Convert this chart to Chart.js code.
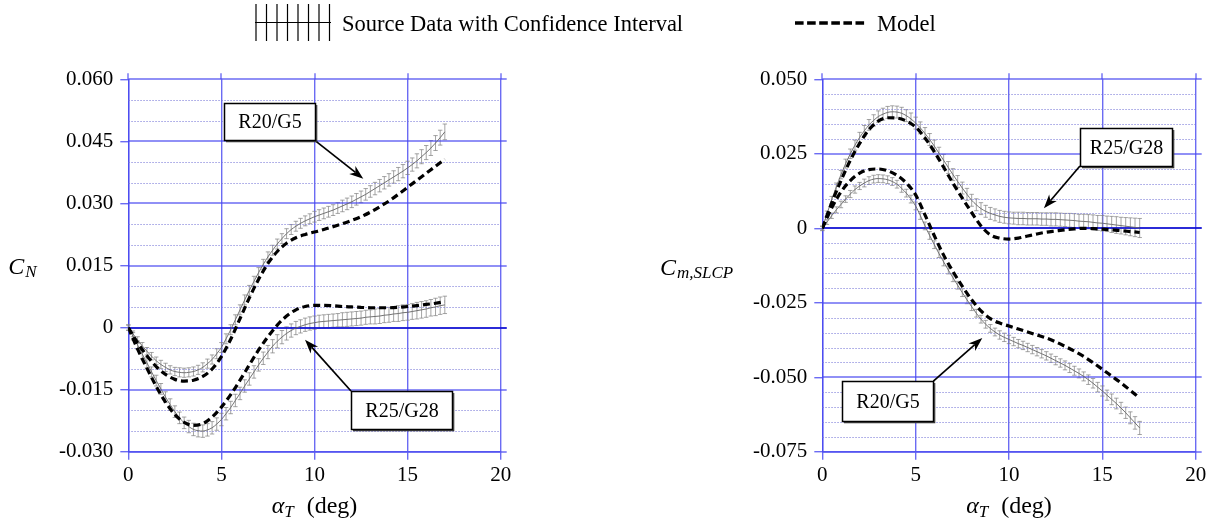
<!DOCTYPE html>
<html>
<head>
<meta charset="utf-8">
<script src="https://cdn.jsdelivr.net/npm/chart.js@4.4.1/dist/chart.umd.min.js"></script>
<style>
  body { margin: 0; background: #fff; }
  #page { position: relative; width: 1217px; height: 527px; overflow: hidden; font-family: 'Liberation Serif', 'Times New Roman', serif; }
  canvas { position: absolute; top: 0; }
  #cnChart { left: 0; }
  #cmChart { left: 608px; }
  .key { position: absolute; }
  .key-text { position: absolute; font-size: 22.5px; line-height: 26px; color: #000; white-space: nowrap; }
</style>
</head>
<body>
<div id="page">
  <canvas id="cnChart" width="608" height="527"></canvas>
  <canvas id="cmChart" width="609" height="527"></canvas>

  <svg class="key" style="left:255px;top:4px" width="76" height="37">
    <g stroke="#000" stroke-width="1.2">
      <line x1="0" y1="18.5" x2="76" y2="18.5"/>
      <line x1="1" y1="0" x2="1" y2="37"/>
      <line x1="11.5" y1="0" x2="11.5" y2="37"/>
      <line x1="22" y1="0" x2="22" y2="37"/>
      <line x1="32.5" y1="0" x2="32.5" y2="37"/>
      <line x1="43" y1="0" x2="43" y2="37"/>
      <line x1="53.5" y1="0" x2="53.5" y2="37"/>
      <line x1="64" y1="0" x2="64" y2="37"/>
      <line x1="74.5" y1="0" x2="74.5" y2="37"/>
    </g>
  </svg>
  <div class="key-text" style="left:342px;top:11px">Source Data with Confidence Interval</div>

  <svg class="key" style="left:795px;top:19px" width="71" height="8">
    <line x1="0" y1="4" x2="71" y2="4" stroke="#000" stroke-width="3.6" stroke-dasharray="8.6 3.5"/>
  </svg>
  <div class="key-text" style="left:877px;top:11px">Model</div>
</div>

<script>
// angle of attack (deg)
const alphaData = [
  0, 0.25, 0.5, 0.75,
  1, 1.25, 1.5, 1.75,
  2, 2.25, 2.5, 2.75,
  3, 3.25, 3.5, 3.75,
  4, 4.25, 4.5, 4.75,
  5, 5.25, 5.5, 5.75,
  6, 6.25, 6.5, 6.75,
  7, 7.25, 7.5, 7.75,
  8, 8.25, 8.5, 8.75,
  9, 9.25, 9.5, 9.75,
  10, 10.25, 10.5, 10.75,
  11, 11.25, 11.5, 11.75,
  12, 12.25, 12.5, 12.75,
  13, 13.25, 13.5, 13.75,
  14, 14.25, 14.5, 14.75,
  15, 15.25, 15.5, 15.75,
  16, 16.25, 16.5, 16.75,
  17
];
const alphaModel = [
  0, 0.5, 1, 1.5, 2, 2.5, 3, 3.5, 4, 4.5, 5, 5.5, 6, 6.5, 7, 7.5, 8, 8.5,
  9, 9.5, 10, 10.5, 11, 11.5, 12, 12.5, 13, 13.5, 14, 14.5, 15, 15.5, 16, 16.5, 17
];
const alphaTicks = [0, 5, 10, 15, 20];

// normal force coefficient C_N
const cnTicks = [-0.030, -0.015, 0, 0.015, 0.030, 0.045, 0.060];
const cnMinorTicks = [-0.025, -0.020, -0.010, -0.005, 0.005, 0.010, 0.020, 0.025, 0.035, 0.040, 0.050, 0.055];

const cnR20Data = [
  0, -0.0015, -0.0030, -0.0044,
  -0.0057, -0.0069, -0.0080, -0.0089,
  -0.0096, -0.0102, -0.0106, -0.0108,
  -0.0109, -0.0108, -0.0106, -0.0102,
  -0.0096, -0.0087, -0.0077, -0.0063,
  -0.0048, -0.0027, -0.0005, 0.0019,
  0.0043, 0.0067, 0.0090, 0.0112,
  0.0133, 0.0153, 0.0171, 0.0187,
  0.0202, 0.0215, 0.0227, 0.0237,
  0.0245, 0.0252, 0.0258, 0.0263,
  0.0268, 0.0272, 0.0276, 0.0280,
  0.0284, 0.0289, 0.0294, 0.0299,
  0.0304, 0.0310, 0.0316, 0.0322,
  0.0329, 0.0336, 0.0343, 0.0350,
  0.0357, 0.0364, 0.0371, 0.0378,
  0.0386, 0.0394, 0.0403, 0.0413,
  0.0423, 0.0434, 0.0446, 0.0459,
  0.0473
];
const cnR20Err = [
  0.0006, 0.0007, 0.0008, 0.0008,
  0.0009, 0.0009, 0.0009, 0.0010,
  0.0010, 0.0010, 0.0010, 0.0011,
  0.0011, 0.0011, 0.0011, 0.0011,
  0.0011, 0.0011, 0.0011, 0.0012,
  0.0012, 0.0012, 0.0012, 0.0012,
  0.0012, 0.0012, 0.0012, 0.0012,
  0.0012, 0.0012, 0.0012, 0.0012,
  0.0012, 0.0012, 0.0012, 0.0012,
  0.0012, 0.0012, 0.0012, 0.0012,
  0.0013, 0.0013, 0.0013, 0.0013,
  0.0013, 0.0013, 0.0014, 0.0014,
  0.0014, 0.0014, 0.0014, 0.0014,
  0.0014, 0.0015, 0.0015, 0.0015,
  0.0015, 0.0015, 0.0016, 0.0016,
  0.0016, 0.0016, 0.0017, 0.0017,
  0.0017, 0.0018, 0.0018, 0.0018,
  0.0019
];
const cnR20Model = [
  0, -0.0037, -0.0068, -0.0094, -0.0113, -0.0125, -0.0129, -0.0127, -0.0118, -0.0100,
  -0.0070, -0.0028, 0.0022, 0.0072, 0.0117, 0.0155, 0.0184, 0.0204, 0.0217, 0.0225,
  0.0231, 0.0237, 0.0244, 0.0251, 0.0259, 0.0268, 0.0279, 0.0292, 0.0306, 0.0322,
  0.0339, 0.0356, 0.0373, 0.0390, 0.0407
];

const cnR25Data = [
  0, -0.0021, -0.0042, -0.0064,
  -0.0085, -0.0107, -0.0128, -0.0148,
  -0.0168, -0.0186, -0.0203, -0.0218,
  -0.0230, -0.0239, -0.0246, -0.0249,
  -0.0250, -0.0247, -0.0242, -0.0233,
  -0.0222, -0.0208, -0.0193, -0.0176,
  -0.0159, -0.0141, -0.0124, -0.0107,
  -0.0090, -0.0074, -0.0059, -0.0045,
  -0.0033, -0.0023, -0.0014, -0.0007,
  -0.0001, 0.0003, 0.0007, 0.0010,
  0.0012, 0.0014, 0.0015, 0.0016,
  0.0017, 0.0018, 0.0019, 0.0020,
  0.0021, 0.0022, 0.0023, 0.0025,
  0.0026, 0.0027, 0.0028, 0.0030,
  0.0031, 0.0033, 0.0034, 0.0036,
  0.0037, 0.0039, 0.0041, 0.0043,
  0.0045, 0.0048, 0.0050, 0.0053,
  0.0055
];
const cnR25Err = [
  0.0007, 0.0009, 0.0010, 0.0011,
  0.0012, 0.0012, 0.0013, 0.0013,
  0.0013, 0.0014, 0.0014, 0.0014,
  0.0014, 0.0015, 0.0015, 0.0015,
  0.0015, 0.0015, 0.0015, 0.0015,
  0.0015, 0.0015, 0.0015, 0.0015,
  0.0015, 0.0015, 0.0015, 0.0015,
  0.0015, 0.0015, 0.0016, 0.0016,
  0.0016, 0.0016, 0.0016, 0.0016,
  0.0016, 0.0016, 0.0016, 0.0016,
  0.0016, 0.0016, 0.0016, 0.0016,
  0.0016, 0.0016, 0.0017, 0.0017,
  0.0017, 0.0017, 0.0017, 0.0017,
  0.0017, 0.0018, 0.0018, 0.0018,
  0.0018, 0.0018, 0.0019, 0.0019,
  0.0019, 0.0019, 0.0020, 0.0020,
  0.0020, 0.0020, 0.0021, 0.0021,
  0.0021
];
const cnR25Model = [
  0, -0.0052, -0.0098, -0.0142, -0.0180, -0.0210, -0.0229, -0.0236, -0.0232, -0.0216,
  -0.0192, -0.0162, -0.0127, -0.0090, -0.0054, -0.0022, 0.0006, 0.0028, 0.0043, 0.0051,
  0.0054, 0.0054, 0.0053, 0.0051, 0.0050, 0.0049, 0.0048, 0.0048, 0.0048, 0.0049,
  0.0051, 0.0053, 0.0056, 0.0059, 0.0063
];

// pitching moment about the SLCP, C_m,SLCP
const cmTicks = [-0.075, -0.050, -0.025, 0, 0.025, 0.050];
const cmMinorTicks = [
  -0.070, -0.065, -0.060, -0.055, -0.045, -0.040, -0.035, -0.030, -0.020, -0.015,
  -0.010, -0.005, 0.005, 0.010, 0.015, 0.020, 0.030, 0.035, 0.040, 0.045
];

const cmR25Data = [
  0, 0.0048, 0.0095, 0.0139,
  0.0180, 0.0217, 0.0250, 0.0279,
  0.0305, 0.0327, 0.0347, 0.0362,
  0.0375, 0.0383, 0.0389, 0.0391,
  0.0390, 0.0386, 0.0378, 0.0367,
  0.0353, 0.0337, 0.0318, 0.0298,
  0.0276, 0.0252, 0.0228, 0.0204,
  0.0180, 0.0157, 0.0135, 0.0114,
  0.0094, 0.0079, 0.0066, 0.0057,
  0.0050, 0.0045, 0.0040, 0.0037,
  0.0035, 0.0034, 0.0033, 0.0033,
  0.0032, 0.0032, 0.0032, 0.0031,
  0.0031, 0.0030, 0.0030, 0.0029,
  0.0028, 0.0027, 0.0026, 0.0024,
  0.0023, 0.0022, 0.0020, 0.0018,
  0.0017, 0.0015, 0.0013, 0.0011,
  0.0009, 0.0007, 0.0005, 0.0003,
  0.0001
];
const cmR25Err = [
  0.0008, 0.0010, 0.0012, 0.0013,
  0.0014, 0.0015, 0.0016, 0.0017,
  0.0017, 0.0018, 0.0018, 0.0019,
  0.0019, 0.0020, 0.0020, 0.0020,
  0.0020, 0.0020, 0.0020, 0.0020,
  0.0020, 0.0020, 0.0020, 0.0020,
  0.0020, 0.0020, 0.0020, 0.0020,
  0.0020, 0.0020, 0.0020, 0.0020,
  0.0020, 0.0020, 0.0020, 0.0020,
  0.0020, 0.0020, 0.0020, 0.0020,
  0.0020, 0.0020, 0.0021, 0.0021,
  0.0021, 0.0021, 0.0021, 0.0021,
  0.0021, 0.0022, 0.0022, 0.0022,
  0.0022, 0.0023, 0.0023, 0.0023,
  0.0024, 0.0024, 0.0025, 0.0025,
  0.0026, 0.0026, 0.0027, 0.0028,
  0.0028, 0.0029, 0.0030, 0.0031,
  0.0032
];
const cmR25Model = [
  0, 0.0085, 0.0160, 0.0228, 0.0285, 0.0331, 0.0360, 0.0371, 0.0370, 0.0360,
  0.0340, 0.0303, 0.0257, 0.0205, 0.0151, 0.0101, 0.0053, 0.0008, -0.0022, -0.0033,
  -0.0036, -0.0033, -0.0026, -0.0019, -0.0013, -0.0009, -0.0005, -0.0002, 0.0000, -0.0001,
  -0.0003, -0.0005, -0.0008, -0.0011, -0.0014
];

const cmR20Data = [
  0, 0.0021, 0.0042, 0.0062,
  0.0080, 0.0098, 0.0115, 0.0130,
  0.0142, 0.0152, 0.0160, 0.0165,
  0.0167, 0.0166, 0.0163, 0.0157,
  0.0148, 0.0134, 0.0118, 0.0098,
  0.0075, 0.0043, 0.0008, -0.0024,
  -0.0055, -0.0085, -0.0113, -0.0140,
  -0.0166, -0.0191, -0.0216, -0.0240,
  -0.0263, -0.0285, -0.0305, -0.0322,
  -0.0336, -0.0348, -0.0358, -0.0366,
  -0.0373, -0.0380, -0.0387, -0.0393,
  -0.0400, -0.0407, -0.0414, -0.0421,
  -0.0428, -0.0436, -0.0444, -0.0452,
  -0.0460, -0.0469, -0.0478, -0.0487,
  -0.0497, -0.0508, -0.0520, -0.0533,
  -0.0546, -0.0560, -0.0574, -0.0588,
  -0.0603, -0.0619, -0.0636, -0.0653,
  -0.0670
];
const cmR20Err = [
  0.0006, 0.0008, 0.0009, 0.0010,
  0.0011, 0.0011, 0.0012, 0.0012,
  0.0012, 0.0013, 0.0013, 0.0013,
  0.0013, 0.0013, 0.0013, 0.0013,
  0.0013, 0.0013, 0.0013, 0.0013,
  0.0013, 0.0013, 0.0013, 0.0013,
  0.0013, 0.0013, 0.0013, 0.0013,
  0.0013, 0.0013, 0.0013, 0.0013,
  0.0013, 0.0013, 0.0013, 0.0013,
  0.0013, 0.0013, 0.0014, 0.0014,
  0.0014, 0.0014, 0.0014, 0.0014,
  0.0014, 0.0014, 0.0014, 0.0014,
  0.0014, 0.0014, 0.0014, 0.0014,
  0.0015, 0.0015, 0.0015, 0.0015,
  0.0015, 0.0016, 0.0016, 0.0016,
  0.0017, 0.0017, 0.0018, 0.0018,
  0.0019, 0.0019, 0.0020, 0.0021,
  0.0022
];
const cmR20Model = [
  0, 0.0068, 0.0122, 0.0160, 0.0185, 0.0197, 0.0199, 0.0193, 0.0178, 0.0152,
  0.0112, 0.0045, -0.0025, -0.0090, -0.0145, -0.0195, -0.0240, -0.0277, -0.0303, -0.0318,
  -0.0328, -0.0338, -0.0348, -0.0358, -0.0368, -0.0381, -0.0396, -0.0412, -0.0430, -0.0451,
  -0.0473, -0.0496, -0.0519, -0.0544, -0.0570
];

const SERIF = "'Liberation Serif', 'Times New Roman', serif";
const gridBlue = 'rgba(70, 70, 240, 0.8)';
const zeroBlue = 'rgb(10, 10, 205)';
const minorBlue = 'rgba(115, 115, 215, 0.7)';

Chart.defaults.font.family = SERIF;
Chart.defaults.color = '#000';

function points(xs, ys) {
  return xs.map((x, i) => ({ x: x, y: ys[i] }));
}

function sourceSet(ys, err) {
  return {
    data: points(alphaData, ys),
    errorBars: err,
    borderColor: 'rgb(100, 100, 100)',
    borderWidth: 0.9,
    pointRadius: 0,
    cubicInterpolationMode: 'monotone',
    order: 2
  };
}

function modelSet(ys) {
  return {
    data: points(alphaModel, ys),
    borderColor: '#000',
    borderWidth: 3.2,
    borderDash: [7, 4],
    pointRadius: 0,
    cubicInterpolationMode: 'monotone',
    order: 1
  };
}

// confidence interval bars under the lines
const errorBarPlugin = {
  id: 'errorBars',
  beforeDatasetsDraw(chart) {
    const { ctx, scales: { x, y } } = chart;
    ctx.save();
    ctx.strokeStyle = 'rgba(128, 128, 128, 0.9)';
    ctx.lineWidth = 0.8;
    chart.data.datasets.forEach(ds => {
      if (!ds.errorBars) return;
      ds.data.forEach((p, i) => {
        const e = ds.errorBars[i];
        const px = x.getPixelForValue(p.x);
        const lo = y.getPixelForValue(p.y - e);
        const hi = y.getPixelForValue(p.y + e);
        ctx.beginPath();
        ctx.moveTo(px, lo); ctx.lineTo(px, hi);
        ctx.moveTo(px - 2.2, lo); ctx.lineTo(px + 2.2, lo);
        ctx.moveTo(px - 2.2, hi); ctx.lineTo(px + 2.2, hi);
        ctx.stroke();
      });
    });
    ctx.restore();
  }
};

// dotted minor grid, the zero line and the short overhang of the major lines
function framePlugin(minorTicks) {
  return {
    id: 'frame',
    beforeDatasetsDraw(chart) {
      const { ctx, chartArea: a, scales: { x, y } } = chart;
      ctx.save();
      ctx.strokeStyle = minorBlue;
      ctx.lineWidth = 1.2;
      ctx.setLineDash([1.5, 1.5]);
      minorTicks.forEach(v => {
        const py = Math.round(y.getPixelForValue(v)) + 0.5;
        ctx.beginPath(); ctx.moveTo(a.left, py); ctx.lineTo(a.right, py); ctx.stroke();
      });
      ctx.setLineDash([]);
      ctx.strokeStyle = gridBlue;
      ctx.lineWidth = 1.4;
      y.ticks.forEach(t => {
        const py = Math.round(y.getPixelForValue(t.value));
        ctx.beginPath(); ctx.moveTo(a.left, py); ctx.lineTo(a.right + 6, py); ctx.stroke();
      });
      x.ticks.forEach(t => {
        const px = Math.round(x.getPixelForValue(t.value));
        ctx.beginPath(); ctx.moveTo(px, a.top - 6); ctx.lineTo(px, a.top); ctx.stroke();
      });
      const zy = Math.round(y.getPixelForValue(0));
      ctx.strokeStyle = zeroBlue;
      ctx.lineWidth = 1.6;
      ctx.beginPath(); ctx.moveTo(a.left, zy); ctx.lineTo(a.right + 6, zy); ctx.stroke();
      ctx.restore();
    }
  };
}

function drawArrow(ctx, x0, y0, x1, y1) {
  const ang = Math.atan2(y1 - y0, x1 - x0);
  const len = 14, half = 5;
  ctx.lineWidth = 1.7;
  ctx.beginPath();
  ctx.moveTo(x0, y0);
  ctx.lineTo(x1 - Math.cos(ang) * (len - 4), y1 - Math.sin(ang) * (len - 4));
  ctx.stroke();
  ctx.save();
  ctx.translate(x1, y1);
  ctx.rotate(ang);
  ctx.beginPath();
  ctx.moveTo(0, 0);
  ctx.lineTo(-len, -half);
  ctx.lineTo(-len + 4, 0);
  ctx.lineTo(-len, half);
  ctx.closePath();
  ctx.fill();
  ctx.restore();
}

// boxed case labels with arrows, plus the axis titles
function notesPlugin(notes, yTitle) {
  return {
    id: 'notes',
    afterDraw(chart) {
      const { ctx, chartArea: a, scales: { x, y } } = chart;
      ctx.save();
      ctx.fillStyle = '#000';
      ctx.strokeStyle = '#000';

      notes.forEach(n => {
        drawArrow(ctx, x.getPixelForValue(n.from[0]), y.getPixelForValue(n.from[1]),
                       x.getPixelForValue(n.to[0]), y.getPixelForValue(n.to[1]));
        const l = Math.round(x.getPixelForValue(n.box[0])) + 0.5;
        const r = Math.round(x.getPixelForValue(n.box[1])) + 0.5;
        const t = Math.round(y.getPixelForValue(n.box[2])) + 0.5;
        const b = Math.round(y.getPixelForValue(n.box[3])) + 0.5;
        ctx.fillStyle = '#fff';
        ctx.fillRect(l, t, r - l, b - t);
        ctx.lineWidth = 1.5;
        ctx.strokeRect(l, t, r - l, b - t);
        ctx.lineWidth = 1.2;
        ctx.strokeStyle = '#333';
        ctx.beginPath();
        ctx.moveTo(r + 1.2, t + 1.5); ctx.lineTo(r + 1.2, b + 1.2); ctx.lineTo(l + 1.5, b + 1.2);
        ctx.stroke();
        ctx.strokeStyle = '#000';
        ctx.fillStyle = '#000';
        ctx.font = '20px ' + SERIF;
        ctx.textAlign = 'center';
        ctx.textBaseline = 'middle';
        ctx.fillText(n.text, (l + r) / 2, (t + b) / 2 + 1);
      });

      ctx.textAlign = 'left';
      ctx.textBaseline = 'alphabetic';

      // vertical axis title with subscript
      ctx.font = 'italic 24px ' + SERIF;
      ctx.fillText('C', yTitle.left, yTitle.base);
      const cw = ctx.measureText('C').width;
      ctx.font = 'italic 17px ' + SERIF;
      ctx.fillText(yTitle.sub, yTitle.left + cw + 1, yTitle.base + 3.5);

      // horizontal axis title: alpha_T (deg)
      ctx.font = 'italic 24px ' + SERIF;
      const wA = ctx.measureText('\u03B1').width;
      ctx.font = 'italic 17px ' + SERIF;
      const wT = ctx.measureText('T').width;
      ctx.font = '24px ' + SERIF;
      const wD = ctx.measureText('(deg)').width;
      const gap = 13;
      let cx = (a.left + a.right) / 2 - (wA + wT + gap + wD) / 2;
      const base = 513;
      ctx.font = 'italic 24px ' + SERIF;
      ctx.fillText('\u03B1', cx, base);
      cx += wA;
      ctx.font = 'italic 17px ' + SERIF;
      ctx.fillText('T', cx, base + 4);
      cx += wT + gap;
      ctx.font = '24px ' + SERIF;
      ctx.fillText('(deg)', cx, base);
      ctx.restore();
    }
  };
}

function yAxis(min, max, ticks, axisWidth) {
  return {
    type: 'linear',
    min: min,
    max: max,
    afterBuildTicks: s => { s.ticks = ticks.map(v => ({ value: v })); },
    afterFit: s => { s.width = axisWidth; },
    ticks: {
      autoSkip: false,
      padding: 7,
      font: { size: 21 },
      color: '#000',
      callback: v => Math.abs(v) < 1e-9 ? '0' : v.toFixed(3)
    },
    grid: { drawOnChartArea: false, lineWidth: 1.4, tickLength: 8, tickColor: gridBlue },
    border: { color: gridBlue, width: 1.4 }
  };
}

function xAxis() {
  return {
    type: 'linear',
    min: 0,
    max: 20,
    afterBuildTicks: s => { s.ticks = alphaTicks.map(v => ({ value: v })); },
    afterFit: s => { s.height = 75.2; },
    ticks: { autoSkip: false, maxRotation: 0, padding: 3, font: { size: 21 }, color: '#000' },
    grid: { color: gridBlue, lineWidth: 1.4, tickLength: 8, tickColor: gridBlue },
    border: { color: gridBlue, width: 1.4 }
  };
}

function makeChart(id, datasets, yOpts, padRight, minorTicks, notes, yTitle) {
  return new Chart(document.getElementById(id), {
    type: 'line',
    data: { datasets: datasets },
    options: {
      responsive: false,
      animation: false,
      devicePixelRatio: 1,
      layout: { padding: { top: 79.3, right: padRight, bottom: 0, left: 0 } },
      scales: { x: xAxis(), y: yOpts },
      plugins: { legend: { display: false }, tooltip: { enabled: false } }
    },
    plugins: [errorBarPlugin, framePlugin(minorTicks), notesPlugin(notes, yTitle)]
  });
}

makeChart('cnChart',
  [sourceSet(cnR20Data, cnR20Err), sourceSet(cnR25Data, cnR25Err), modelSet(cnR20Model), modelSet(cnR25Model)],
  yAxis(-0.030, 0.060, cnTicks, 128.3),
  107.3,
  cnMinorTicks,
  [
    { text: 'R20/G5', box: [5.14, 10.0, 0.0543, 0.0453], from: [10.0, 0.0453], to: [12.62, 0.0360] },
    { text: 'R25/G28', box: [11.96, 17.4, -0.0153, -0.0246], from: [11.96, -0.0153], to: [9.49, -0.0029] }
  ],
  { left: 8.3, base: 273.5, sub: 'N' }
);

makeChart('cmChart',
  [sourceSet(cmR25Data, cmR25Err), sourceSet(cmR20Data, cmR20Err), modelSet(cmR25Model), modelSet(cmR20Model)],
  yAxis(-0.075, 0.050, cmTicks, 214.3),
  21.3,
  cmMinorTicks,
  [
    { text: 'R25/G28', box: [13.8, 18.71, 0.0335, 0.0209], from: [13.8, 0.0209], to: [11.87, 0.0067] },
    { text: 'R20/G5', box: [1.07, 5.95, -0.0513, -0.0645], from: [5.95, -0.0513], to: [8.57, -0.0368] }
  ],
  { left: 52, base: 274.5, sub: 'm,SLCP' }
);
</script>
</body>
</html>
